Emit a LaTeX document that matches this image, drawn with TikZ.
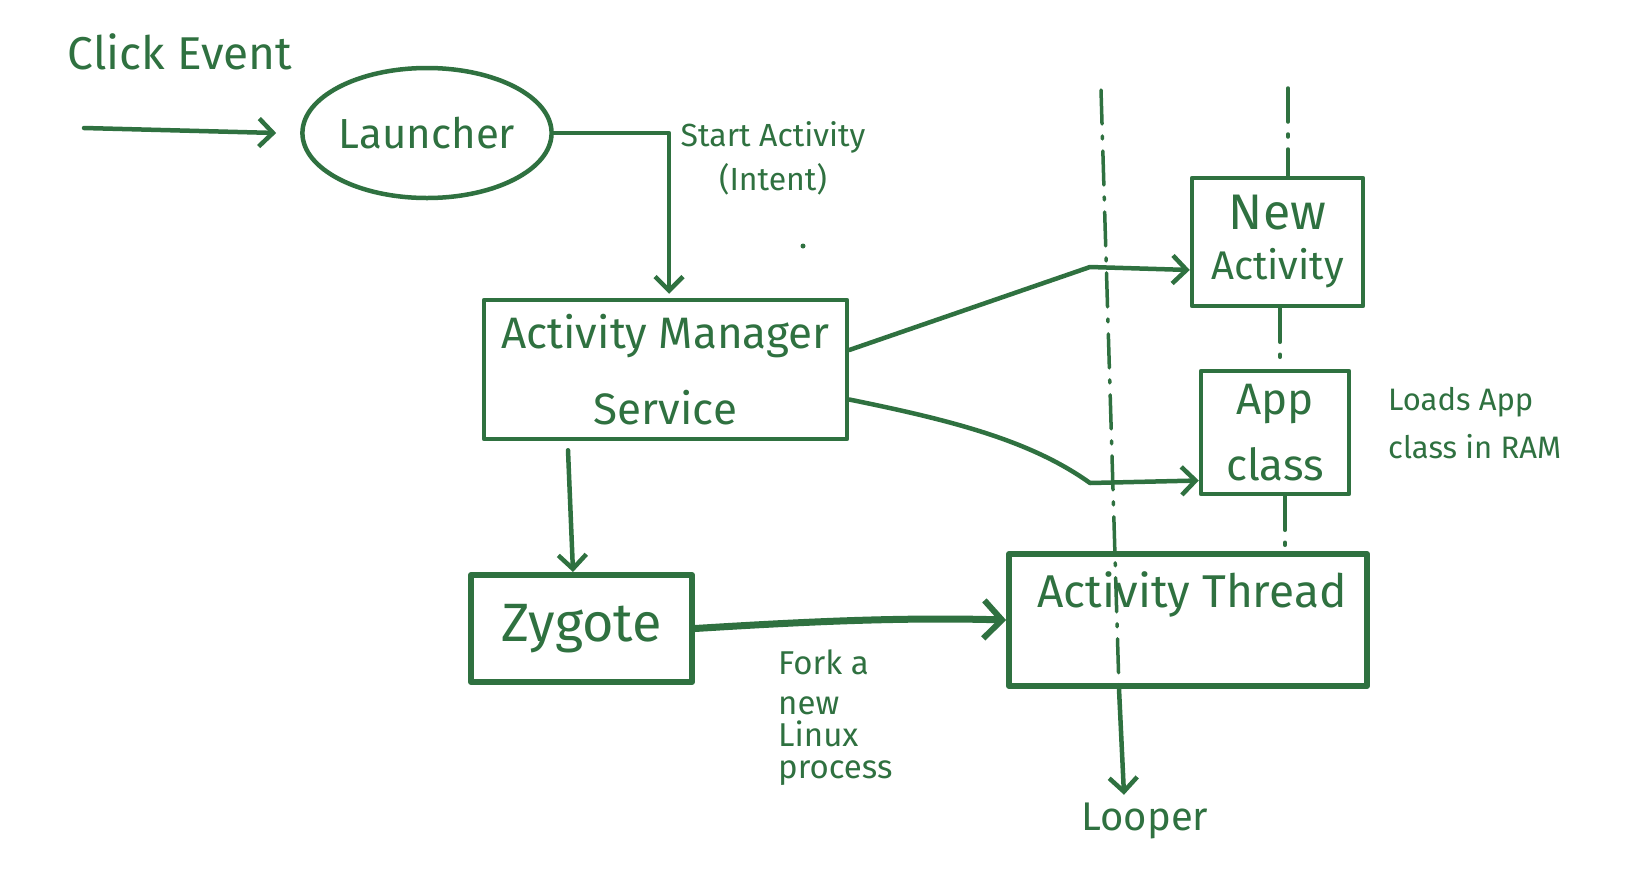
\documentclass[tikz,border=0pt]{standalone}
\usepackage{fontspec}
\setmainfont{Fira Sans}
\usetikzlibrary{shapes.geometric,arrows.meta}
\definecolor{ink}{RGB}{47,113,64}
\tikzset{
  every node/.style={text=ink, inner sep=0pt},
  stroke/.style={draw=ink, line width=4.5pt, line cap=round, line join=round},
  box/.style={stroke, rectangle},
  conn/.style={draw=ink, line width=4.5pt, line cap=round, line join=round, -{Straight Barb[length=14pt,width=28pt,line width=4.5pt]}},
  lifeline/.style={draw=ink, line width=3.5pt, line cap=round, dash pattern=on 34pt off 12pt on 3pt off 12pt},
  big/.style={font=\fontsize{44}{50}\selectfont},
  mid/.style={font=\fontsize{40}{46}\selectfont},
  small/.style={font=\fontsize{31}{34}\selectfont, align=left},
}
\begin{document}
\begin{tikzpicture}[x=1pt,y=-1pt]
\useasboundingbox[fill=white] (0,0) rectangle (1640,884);

% title
\node[font=\fontsize{46}{50}\selectfont] (click) at (180,52) {Click Event};
\coordinate (clickstart) at (84,128);

% nodes
\node[stroke, ellipse, minimum width=236, minimum height=130, font=\fontsize{42}{48}\selectfont] (launcher) at (427,133) {Launcher};
\node[box, minimum width=363, minimum height=139, big, align=center] (ams) at (665.5,369.5) {Activity Manager\\[26pt]Service};
\node[box, minimum width=221, minimum height=107, line width=6pt, font=\fontsize{54}{56}\selectfont] (zyg) at (581.5,628.5) {Zygote};
\node[box, minimum width=358, minimum height=132, line width=6pt] (at) at (1188,620) {};
\node[font=\fontsize{46}{50}\selectfont] (atlabel) at (1192,594) {Activity Thread};
\node[box, minimum width=171, minimum height=128, align=center, font=\fontsize{40}{46}\selectfont] (newact) at (1277.5,242) {{\fontsize{50}{50}\selectfont New}\\[4pt]Activity};
\node[box, minimum width=148, minimum height=123, align=center, font=\fontsize{44}{50}\selectfont] (app) at (1275,432.5) {App\\[16pt]class};
\node[mid] (looper) at (1145,821) {Looper};

% labels
\node[small, align=center, font=\fontsize{32}{36}\selectfont] (startact) at (773,158) {Start Activity\\[8pt](Intent)};
\fill[ink] (803,246) circle (2.5pt);
\node[small, anchor=north west, font=\fontsize{33}{34}\selectfont] (fork) at (778,650) {Fork a\\[6pt]new\\[-2pt]Linux\\[-2pt]process};
\node[small, align=left, anchor=west] (loads) at (1388,423) {Loads App\\[14pt]class in RAM};

% lifelines
\coordinate (l1top) at (1101,90);
\coordinate (l2top) at (1288,88);
\draw[lifeline] (l1top) -- ([xshift=-69pt]at.south);
\draw[lifeline] (l2top) -- ([xshift=10.5pt]newact.north);
\draw[lifeline] ([xshift=2.5pt]newact.south) -- ([xshift=5pt]app.north);
\draw[lifeline] ([xshift=10pt]app.south) -- ([xshift=97pt]at.north);

% connectors
\draw[conn] (clickstart) -- ([xshift=-24pt]launcher.west);
\draw[conn] (launcher.east) -| ([xshift=3.5pt,yshift=4pt]ams.north);
\draw[conn] ([xshift=-97.5pt,yshift=-9pt]ams.south) -- ([xshift=-8.5pt]zyg.north);
\draw[conn, line width=7pt, -{Straight Barb[length=18pt,width=38pt,line width=6pt]}] (zyg.east) .. controls (800,622) and (900,617) .. (at.west);
\coordinate (j1) at (1090,267);
\draw[conn] ([yshift=19.5pt]ams.east) -- (j1) -- ([yshift=-28pt]newact.west);
\coordinate (j2) at (1090,483);
\draw[conn] ([yshift=-30pt]ams.east) .. controls (950,420) and (1030,440) .. (j2) -- ([yshift=-48pt]app.west);
\draw[conn] ([xshift=-69pt]at.south) -- ([xshift=-21pt,yshift=8pt]looper.north);
\end{tikzpicture}
\end{document}
